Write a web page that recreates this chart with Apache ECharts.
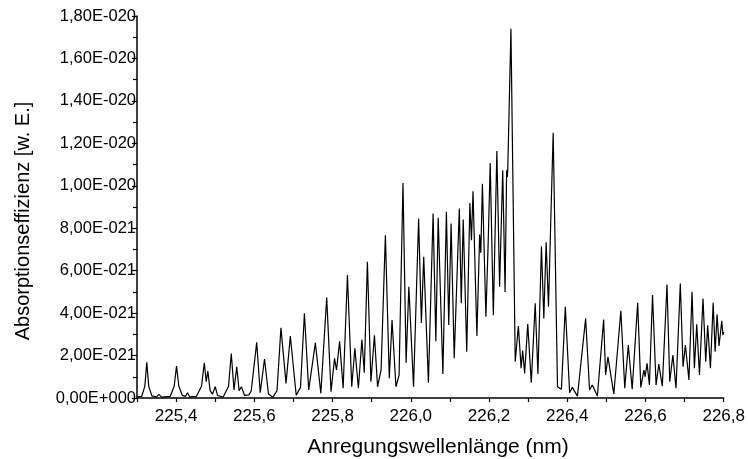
<!DOCTYPE html>
<html>
<head>
<meta charset="utf-8">
<script src="https://cdn.jsdelivr.net/npm/echarts@6/dist/echarts.min.js"></script>
<style>
  html, body { margin: 0; padding: 0; background: #fff; }
  #chart { width: 748px; height: 459px; }
</style>
</head>
<body>
<div id="chart"></div>
<script>
// Anregungswellenlänge in nm
const waveNm = [
  225.300, 225.312, 225.320, 225.325, 225.330, 225.338, 225.350, 225.356, 225.363, 225.385,
  225.395, 225.401, 225.407, 225.416, 225.424, 225.429, 225.435, 225.452, 225.465, 225.472,
  225.477, 225.481, 225.487, 225.493, 225.500, 225.506, 225.520, 225.534, 225.541, 225.548,
  225.555, 225.561, 225.567, 225.575, 225.586, 225.592, 225.597, 225.606, 225.615, 225.626,
  225.636, 225.647, 225.658, 225.668, 225.681, 225.692, 225.707, 225.718, 225.728, 225.739,
  225.756, 225.770, 225.785, 225.796, 225.805, 225.810, 225.818, 225.827, 225.838, 225.849,
  225.857, 225.866, 225.875, 225.881, 225.889, 225.898, 225.907, 225.915, 225.924, 225.935,
  225.945, 225.952, 225.962, 225.970, 225.980, 225.988, 225.995, 226.007, 226.020, 226.027,
  226.033, 226.045, 226.057, 226.064, 226.070, 226.082, 226.091, 226.097, 226.103, 226.111,
  226.124, 226.129, 226.134, 226.143, 226.151, 226.155, 226.159, 226.169, 226.176, 226.179,
  226.183, 226.192, 226.198, 226.203, 226.211, 226.220, 226.227, 226.235, 226.241, 226.245,
  226.247, 226.248, 226.256, 226.267, 226.275, 226.282, 226.286, 226.291, 226.299, 226.308,
  226.318, 226.325, 226.334, 226.340, 226.346, 226.352, 226.358, 226.364, 226.375, 226.385,
  226.395, 226.406, 226.413, 226.426, 226.447, 226.457, 226.464, 226.477, 226.493, 226.498,
  226.504, 226.519, 226.537, 226.547, 226.556, 226.566, 226.580, 226.588, 226.596, 226.599,
  226.604, 226.610, 226.618, 226.627, 226.634, 226.643, 226.655, 226.662, 226.670, 226.678,
  226.689, 226.696, 226.702, 226.711, 226.719, 226.725, 226.731, 226.738, 226.747, 226.754,
  226.759, 226.766, 226.773, 226.778, 226.783, 226.788, 226.795, 226.798, 226.800
];

// Absorptionseffizienz in Einheiten von 1E-021
const absorption = [
  0.04, 0.08, 0.55, 1.68, 0.55, 0.10, 0.05, 0.17, 0.04, 0.08,
  0.55, 1.50, 0.55, 0.12, 0.08, 0.25, 0.05, 0.08, 0.55, 1.66,
  0.77, 1.27, 0.35, 0.18, 0.53, 0.12, 0.04, 0.55, 2.10, 0.38,
  1.47, 0.35, 0.53, 0.12, 0.15, 0.33, 0.25, 2.62, 0.25, 1.84,
  0.20, 0.03, 0.35, 3.31, 0.69, 2.92, 0.13, 0.50, 3.99, 0.38,
  2.60, 0.22, 4.74, 0.30, 1.87, 1.32, 2.67, 0.46, 5.79, 0.53,
  2.34, 0.46, 2.76, 1.19, 6.42, 0.77, 2.96, 0.53, 1.32, 7.67,
  0.93, 3.67, 0.53, 1.08, 10.13, 1.66, 5.24, 0.53, 8.46, 3.54,
  6.65, 0.72, 8.69, 2.68, 8.49, 1.13, 8.77, 3.44, 8.22, 1.87,
  8.93, 4.46, 8.41, 2.18, 9.19, 7.43, 9.74, 2.92, 7.70, 6.84,
  10.10, 3.83, 7.43, 11.07, 3.90, 11.64, 5.24, 10.73, 5.00, 10.73,
  10.41, 10.88, 17.40, 1.71, 3.39, 1.40, 2.23, 1.16, 3.48, 0.72,
  4.46, 1.13, 7.15, 3.75, 7.34, 4.30, 8.46, 12.50, 0.53, 0.41,
  4.30, 0.25, 0.50, 0.09, 3.75, 0.38, 0.61, 0.09, 3.70, 1.08,
  1.94, 0.19, 4.11, 0.46, 2.49, 0.41, 4.49, 0.50, 1.32, 1.00,
  1.63, 0.61, 4.85, 0.61, 1.60, 0.56, 5.35, 0.77, 2.02, 0.46,
  5.40, 1.47, 2.49, 0.85, 5.00, 1.40, 3.47, 1.08, 4.69, 1.71,
  3.43, 1.40, 4.49, 2.18, 3.94, 2.45, 3.64, 2.96, 3.12
];

const xTitle = 'Anregungswellenlänge (nm)';
const yTitle = 'Absorptionseffizienz [w. E.]';

const fontFamily = 'Arial, "Liberation Sans", sans-serif';

function yLabel(v) {
  if (v === 0) return '0,00E+000';
  if (v >= 10) return (v / 10).toFixed(2).replace('.', ',') + 'E-020';
  return v.toFixed(2).replace('.', ',') + 'E-021';
}

const chart = echarts.init(document.getElementById('chart'));
chart.setOption({
  animation: false,
  backgroundColor: '#fff',
  grid: { left: 137, right: 23, top: 16, bottom: 61 },
  xAxis: {
    type: 'value',
    min: 225.3,
    max: 226.8,
    interval: 0.1,
    splitLine: { show: false },
    axisLine: { lineStyle: { color: '#000', width: 1.5 } },
    axisTick: { length: 4, lineStyle: { color: '#000', width: 1.2 } },
    axisLabel: {
      color: '#000',
      fontSize: 17,
      fontFamily: fontFamily,
      margin: 10,
      formatter: function (v) {
        const k = Math.round(v * 10);
        if (k % 2 !== 0) return '';
        return (k / 10).toFixed(1).replace('.', ',');
      }
    }
  },
  yAxis: {
    type: 'value',
    min: 0,
    max: 18,
    interval: 2,
    splitLine: { show: false },
    axisLine: { show: true, lineStyle: { color: '#000', width: 1.5 } },
    axisTick: { show: true, length: 5, lineStyle: { color: '#000', width: 1.2 } },
    minorTick: { show: true, splitNumber: 2, length: 4, lineStyle: { color: '#000', width: 1.2 } },
    axisLabel: {
      color: '#000',
      fontSize: 16.5,
      fontFamily: fontFamily,
      margin: 1,
      formatter: yLabel
    }
  },
  graphic: [
    {
      type: 'text',
      x: 23,
      y: 221,
      rotation: Math.PI / 2,
      style: {
        text: yTitle,
        font: '20px ' + fontFamily,
        fill: '#000',
        align: 'center',
        verticalAlign: 'middle',
        textAlign: 'center',
        textVerticalAlign: 'middle'
      }
    },
    {
      type: 'text',
      x: 438,
      y: 447,
      style: {
        text: xTitle,
        font: '21px ' + fontFamily,
        fill: '#000',
        align: 'center',
        verticalAlign: 'middle',
        textAlign: 'center',
        textVerticalAlign: 'middle'
      }
    }
  ],
  series: [{
    name: 'absorption',
    type: 'line',
    data: waveNm.map((x, i) => [x, absorption[i]]),
    showSymbol: false,
    lineStyle: { color: '#000', width: 1.2 },
    clip: true
  }]
});
</script>
</body>
</html>
